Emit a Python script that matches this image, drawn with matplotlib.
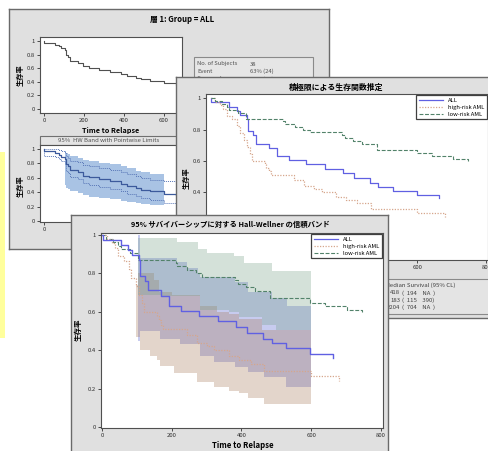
import numpy as np
import matplotlib
matplotlib.use('Agg')
import matplotlib.pyplot as plt
from matplotlib.patches import Rectangle
from matplotlib.lines import Line2D

plt.rcParams['font.family'] = ['Noto Sans CJK JP', 'DejaVu Sans']

W, H = 488, 451
fig = plt.figure(figsize=(W / 100, H / 100), dpi=100)

# ---------------- data ----------------
groups = ['ALL', 'high-risk AML', 'low-risk AML']

all_t = [0, 2, 54, 75, 86, 106, 109, 122, 131, 169, 193, 226, 277, 332, 383, 417, 462, 487, 528, 598, 662]
all_s = [1, .974, .947, .921, .895, .868, .789, .763, .711, .684, .630, .605, .578, .550, .520, .490, .460, .435, .410, .380, .360]

high_t = [0, 13, 28, 37, 47, 62, 76, 84, 98, 105, 114, 119, 157, 162, 168, 175, 243, 272, 300, 322, 363, 392, 426, 464, 600, 680]
high_s = [1, .978, .956, .933, .889, .867, .822, .778, .733, .689, .644, .600, .578, .556, .533, .511, .480, .440, .420, .400, .370, .350, .330, .290, .265, .240]

low_t = [0, 12, 32, 46, 54, 80, 102, 211, 216, 245, 269, 287, 380, 390, 414, 438, 482, 598, 641, 702, 746]
low_s = [1, .981, .963, .944, .926, .907, .870, .852, .837, .818, .800, .783, .766, .745, .728, .710, .670, .648, .630, .610, .600]

# Hall-Wellner bands (panel 3)
all_up_t = [104, 109, 215, 245, 275, 282, 380, 420, 488, 530, 600]
all_up = [1.0, .88, .86, .83, .80, .783, .757, .705, .67, .63, .63]
all_lo_t = [104, 109, 167, 225, 282, 321, 380, 420, 464, 527, 600]
all_lo = [.45, .50, .46, .43, .37, .34, .314, .288, .262, .21, .21]

high_up_t = [98, 104, 148, 162, 200, 282, 330, 363, 392, 460, 600]
high_up = [.74, .80, .766, .705, .69, .63, .60, .59, .56, .505, .505]
high_lo_t = [98, 109, 138, 157, 167, 206, 272, 320, 363, 392, 420, 466, 600]
high_lo = [.47, .40, .37, .35, .32, .28, .236, .21, .19, .175, .15, .12, .12]

low_up_t = [103, 215, 275, 300, 378, 407, 488, 600]
low_up = [.985, .962, .925, .908, .89, .853, .81, .81]
low_lo_t = [103, 168, 282, 363, 392, 460, 500, 600]
low_lo = [.6875, .68, .61, .60, .575, .53, .505, .505]

# Panel 1 lower plot (ALL): HW band + pointwise limits
p1_band_t = [106, 109, 122, 131, 169, 193, 226, 277, 332, 383, 417, 462, 487, 528, 600]
p1_band_up = [.97, .95, .93, .90, .88, .85, .83, .81, .79, .76, .73, .70, .68, .65, .65]
p1_band_lo = [.50, .46, .44, .41, .39, .36, .34, .32, .30, .28, .26, .25, .24, .22, .22]
pw_lo = [1, .91, .89, .86, .83, .79, .70, .67, .61, .58, .53, .50, .47, .44, .41, .38, .35, .32, .29, .25, .236]
pw_up = [1, 1.0, .995, .985, .97, .95, .90, .88, .84, .82, .78, .76, .73, .71, .68, .65, .62, .60, .57, .55, .546]

subj_lines = ['No. of Subjects', 'Event', 'Censored']
subj_vals = ['38', '63% (24)', '37% (14)']
median_header = 'Median Survival (95% CL)'
median_vals = ['418', '183', '2204']
median_cls = ['(  194    NA  )', '(  115    390)', '(  704    NA  )']

# ---------------- styles ----------------
PANEL_BG = '#e0e0e0'
EDGE = '#6a6a6a'
C_ALL = '#6060e2'
C_HIGH = '#d6a68c'
C_LOW = '#52826a'
LS_HIGH = (0, (1, 1.2))
LS_LOW = (0, (3.5, 1.5))
B_ALL = '#4855cd'
B_HIGH = '#a57655'
B_LOW = '#739e84'
B_ALPHA = 0.3


def R(x0, y0, x1, y1):
    return [x0 / W, 1 - y1 / H, (x1 - x0) / W, (y1 - y0) / H]


def panel(x0, y0, x1, y1, z):
    ax = fig.add_axes(R(x0, y0, x1, y1), zorder=z)
    ax.set_xlim(x0, x1)
    ax.set_ylim(y1, y0)
    ax.set_facecolor(PANEL_BG)
    ax.set_xticks([])
    ax.set_yticks([])
    for sp in ax.spines.values():
        sp.set_color(EDGE)
        sp.set_linewidth(1.0)
    return ax


def fmt(v):
    return '0' if v == 0 else ('1' if v == 1 else f'{v:g}')


def plot_axes(x0, y0, x1, y1, z, xlim, ylim, xticks, yticks, xlabels=None, ylabels=None):
    ax = fig.add_axes(R(x0, y0, x1, y1), zorder=z)
    ax.set_xlim(*xlim)
    ax.set_ylim(*ylim)
    ax.set_facecolor('white')
    ax.set_xticks(xticks)
    ax.set_xticklabels(xlabels if xlabels is not None else [str(v) for v in xticks])
    ax.set_yticks(yticks)
    ax.set_yticklabels(ylabels if ylabels is not None else [fmt(v) for v in yticks])
    ax.tick_params(length=2, width=0.6, pad=1.5, labelsize=4.3, colors='#303030')
    for sp in ax.spines.values():
        sp.set_color('#505050')
        sp.set_linewidth(0.8)
    return ax


def band(ax, up_t, up, lo_t, lo, color, alpha):
    grid = np.array(sorted(set(up_t) | set(lo_t)), dtype=float)
    u = np.array(up)[np.searchsorted(up_t, grid, side='right') - 1]
    l = np.array(lo)[np.searchsorted(lo_t, grid, side='right') - 1]
    ax.fill_between(grid, l, u, step='post', color=color, alpha=alpha, lw=0)


def add_legend(ax, handles):
    lg = ax.legend(handles, groups, loc='upper right', fontsize=4.2, frameon=True, fancybox=False,
                   edgecolor='#404040', framealpha=1, borderaxespad=0.25, handlelength=4.2,
                   handletextpad=0.8, borderpad=0.4, labelspacing=0.35)
    lg.get_frame().set_linewidth(0.9)
    return lg


yt = [0, 0.2, 0.4, 0.6, 0.8, 1]

# yellow strip at the far left
fig.add_artist(Rectangle((0, 1 - 338 / H), 4.5 / W, (338 - 152) / H,
                         transform=fig.transFigure, color='#ffff9c', zorder=0.1, lw=0))

# ======================= Panel 1 (back) =======================
p1 = panel(9, 9, 329, 249, 1)
p1.text(182, 20, '層 1: Group = ALL', ha='center', va='center', fontsize=5.6, fontweight='bold')
p1.add_patch(Rectangle((194, 57), 119, 50, facecolor='#e6e6e6', edgecolor='#8a8a8a', lw=0.8))
for i, (lab, val) in enumerate(zip(subj_lines, subj_vals)):
    p1.text(197, 64 + 7.5 * i, lab, fontsize=4.2, va='center', color='#505050')
    p1.text(250, 64 + 7.5 * i, val, fontsize=4.2, va='center', color='#505050')
p1.text(111, 130, 'Time to Relapse', ha='center', va='center', fontsize=5.2, fontweight='bold')
p1.text(20, 75, '生存率', rotation=90, ha='center', va='center', fontsize=5.2, fontweight='bold')
p1.text(20, 186, '生存率', rotation=90, ha='center', va='center', fontsize=5.2, fontweight='bold')
p1.add_patch(Rectangle((40, 136), 142, 9, facecolor='#e4e4e4', edgecolor='#707070', lw=0.8))
p1.text(109, 140.5, '95%  HW Band with Pointwise Limits', ha='center', va='center',
        fontsize=4.3, color='#505050')

a1 = plot_axes(40, 37, 182, 113, 2, (-20, 690), (-0.06, 1.06), [0, 200, 400, 600], yt)
a1.step(all_t, all_s, where='post', color='#505050', lw=0.8)

a2 = plot_axes(40, 145, 182, 222, 2, (-20, 690), (-0.014, 1.056), [0, 200, 400, 600], yt,
               xlabels=['0', '', '', ''])
a2.fill_between(p1_band_t, p1_band_lo, p1_band_up, step='post', color='#a9c3e4', lw=0)
a2.step(all_t, pw_up, where='post', color='#5a78b8', lw=0.7, ls=(0, (1, 1)))
a2.step(all_t, pw_lo, where='post', color='#5a78b8', lw=0.7, ls=(0, (1, 1)))
a2.step(all_t, all_s, where='post', color='#3c5a9c', lw=0.9)

# ======================= Panel 2 (middle) =======================
p2 = panel(176, 77, 492, 318, 10)
p2.text(336, 87, '積極限による生存関数推定', ha='center', va='center', fontsize=5.7, fontweight='bold')
p2.text(186, 178, '生存率', rotation=90, ha='center', va='center', fontsize=5.2, fontweight='bold')
p2.add_patch(Rectangle((300, 279), 192, 35, facecolor='#e4e4e4', edgecolor='#8a8a8a', lw=0.8))
p2.text(385, 285, median_header, fontsize=4.3, va='center', color='#404040')
for i, (v, cl) in enumerate(zip(median_vals, median_cls)):
    p2.text(400, 293 + 7.2 * i, v, fontsize=4.3, va='center', ha='right', color='#404040')
    p2.text(402, 293 + 7.2 * i, cl, fontsize=4.3, va='center', ha='left', color='#404040')

b = plot_axes(206, 94, 488, 260, 11, (-13.6, 805), (-0.035, 1.028), [0, 200, 400, 600, 800], yt,
              xlabels=['', '', '', '600', '800'], ylabels=['', '', '0.4', '0.6', '0.8', '1'])
b.step(all_t, all_s, where='post', color=C_ALL, lw=0.9)
b.step(high_t, high_s, where='post', color=C_HIGH, lw=0.9, ls=LS_HIGH)
b.step(low_t, low_s, where='post', color=C_LOW, lw=0.8, ls=LS_LOW)
hnd = [Line2D([], [], color=C_ALL, lw=0.9),
       Line2D([], [], color=C_HIGH, lw=0.9, ls=LS_HIGH),
       Line2D([], [], color=C_LOW, lw=0.8, ls=LS_LOW)]
add_legend(b, hnd)

# ======================= Panel 3 (front) =======================
p3 = panel(71, 215, 388, 456, 20)
p3.text(230, 224.5, '95% サバイバーシップに対する Hall-Wellner の信頼バンド', ha='center', va='center',
        fontsize=5.3, fontweight='bold')
p3.text(78, 330, '生存率', rotation=90, ha='center', va='center', fontsize=5.4, fontweight='bold')
p3.text(243, 446, 'Time to Relapse', ha='center', va='center', fontsize=5.6, fontweight='bold')

c = plot_axes(101, 233, 383, 428, 21, (-3, 806), (-0.0052, 1.0104), [0, 200, 400, 600, 800], yt)
band(c, all_up_t, all_up, all_lo_t, all_lo, B_ALL, B_ALPHA)
band(c, high_up_t, high_up, high_lo_t, high_lo, B_HIGH, B_ALPHA)
band(c, low_up_t, low_up, low_lo_t, low_lo, B_LOW, B_ALPHA)
c.step(low_t, low_s, where='post', color=C_LOW, lw=0.8, ls=LS_LOW)
c.step(high_t, high_s, where='post', color=C_HIGH, lw=0.9, ls=LS_HIGH)
c.step(all_t, all_s, where='post', color=C_ALL, lw=1.0)
add_legend(c, hnd)

fig.savefig('out.png', dpi=100, facecolor='white')
